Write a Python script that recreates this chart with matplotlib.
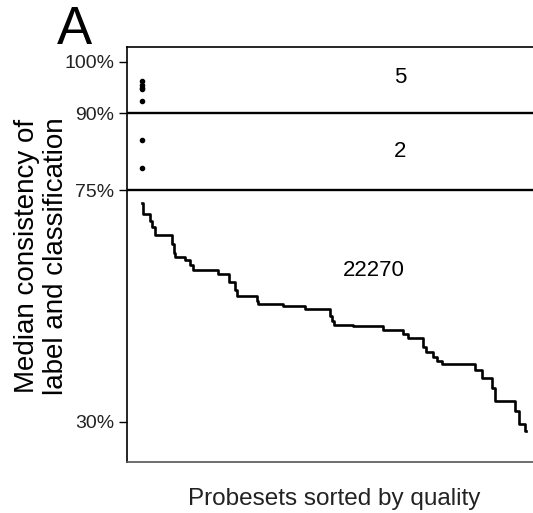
import numpy as np
import matplotlib
matplotlib.use("Agg")
import matplotlib.pyplot as plt

plt.rcParams['font.family'] = ['Liberation Sans', 'DejaVu Sans']

# probeset ranks where each step of the sorted curve starts, and its level (%)
step_start = [0, 58, 464, 580, 754, 1760, 1860, 1915, 2495, 2785, 2960, 4425,
              5065, 5395, 5510, 6650, 6730, 8180, 9455, 10905, 11020, 11135,
              12240, 13980, 15140, 15430, 16300, 16470, 16880, 17110, 17400,
              19315, 19720, 20300, 20475, 21635, 21865, 22215]
step_level = [72.5, 70.5, 69.0, 67.8, 66.4, 64.5, 62.8, 62.0, 61.4, 60.5, 59.5,
              58.8, 57.1, 55.7, 54.4, 53.5, 52.9, 52.45, 51.9, 50.5, 49.5, 48.8,
              48.6, 47.9, 47.0, 46.2, 44.5, 43.6, 42.5, 41.8, 41.2, 40.0, 38.5,
              36.5, 34.1, 32.0, 29.6, 28.1]
n_low = 22270

# the few probesets above the thresholds
top_vals = [96.2, 95.6, 95.0, 94.7, 92.45]
mid_vals = [84.75, 79.4]

thresholds = [90, 75]
yticks = [30, 75, 90, 100]

fig = plt.figure(figsize=(5.33, 5.13), dpi=100)
ax = fig.add_axes([127/533, 51/513, 414/533, 415/513])

x = np.array(step_start + [n_low])
y = np.array(step_level + [step_level[-1]])
ax.step(x, y, where='post', color='black', lw=1.9)

ax.plot(np.zeros(len(top_vals)), top_vals, 'o', color='black', ms=3)
ax.plot(np.zeros(len(mid_vals)), mid_vals, 'o', color='black', ms=3)

for t in thresholds:
    ax.axhline(t, color='black', lw=1.7)

ax.text(14960, 96.9, str(len(top_vals)), fontsize=16, ha='center', va='center')
ax.text(14960, 82.5, str(len(mid_vals)), fontsize=16, ha='center', va='center')
ax.text(13450, 59.5, str(n_low), fontsize=16, ha='center', va='center')

ax.set_xlim(-870, 23140)
ax.set_ylim(22.16, 102.9)
ax.set_yticks(yticks)
ax.set_yticklabels(['%d%%' % v for v in yticks], fontsize=14, color='#222222')
ax.set_xticks([])
ax.tick_params(axis='y', direction='out', length=6, width=1, pad=3)

ax.spines['right'].set_visible(False)
for s in ['left', 'top']:
    ax.spines[s].set_linewidth(1.2)
ax.spines['bottom'].set_linewidth(1.2)
ax.spines['bottom'].set_color('#555555')

fig.text(41.5/533, 1 - 256/513, 'Median consistency of\nlabel and classification',
         rotation=90, ha='center', va='center', fontsize=20, linespacing=1.15)
fig.text(334/533, 1 - 505/513, 'Probesets sorted by quality',
         ha='center', va='baseline', fontsize=17.5, color='#222222')
fig.text(57/533, 1 - 44/513, 'A', fontsize=38, ha='left', va='baseline')

fig.savefig('out.png', dpi=100)
